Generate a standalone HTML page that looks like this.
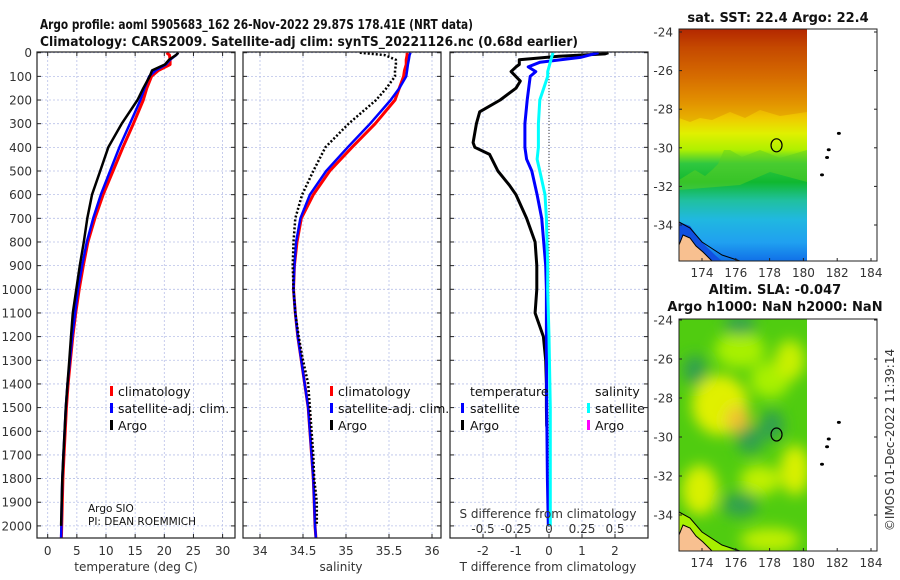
<!DOCTYPE html>
<html><head><meta charset="utf-8"><style>
html,body{margin:0;padding:0;background:#fff;}
svg{display:block;font-family:"DejaVu Sans","Liberation Sans",sans-serif;}
.tk{font-size:12px;fill:#333;}
.ttl{font-size:13px;font-weight:bold;fill:#111;}
.lg{font-size:12.5px;fill:#111;}
</style></head><body>
<svg id="fig" width="900" height="580" viewBox="0 0 900 580">
<defs>
<linearGradient id="sstg" x1="0" y1="0" x2="0" y2="1">
<stop offset="0" stop-color="#a80800"/><stop offset="0.08" stop-color="#c03800"/>
<stop offset="0.2" stop-color="#d86800"/><stop offset="0.3" stop-color="#e89800"/>
<stop offset="0.38" stop-color="#f0c800"/><stop offset="0.45" stop-color="#e0f000"/>
<stop offset="0.52" stop-color="#b0f000"/><stop offset="0.58" stop-color="#30c840"/>
<stop offset="0.66" stop-color="#10b830"/><stop offset="0.74" stop-color="#20c0a0"/>
<stop offset="0.82" stop-color="#20b8e0"/><stop offset="0.92" stop-color="#20a0f0"/>
<stop offset="1" stop-color="#1070e8"/></linearGradient>
<filter id="blur"><feGaussianBlur stdDeviation="7"/></filter>
<clipPath id="c1"><rect x="679" y="29" width="128" height="232"/></clipPath>
<clipPath id="c2"><rect x="679" y="319" width="128" height="232"/></clipPath>
</defs>
<g>
<text class="ttl" x="40" y="29" font-size="13" textLength="433" lengthAdjust="spacingAndGlyphs">Argo profile: aoml 5905683_162 26-Nov-2022 29.87S 178.41E (NRT data)</text>
<text class="ttl" x="40" y="46" font-size="13" textLength="538" lengthAdjust="spacingAndGlyphs">Climatology: CARS2009. Satellite-adj clim: synTS_20221126.nc (0.68d earlier)</text>
</g>
<g id="grids"></g>
<g id="series"></g>
<g id="frames"></g>

<g>
<rect x="110" y="386" width="3" height="10" fill="#f00"/><text class="lg" x="118" y="396">climatology</text>
<rect x="110" y="403" width="3" height="10" fill="#00f"/><text class="lg" x="118" y="413">satellite-adj. clim.</text>
<rect x="110" y="420" width="3" height="10" fill="#000"/><text class="lg" x="118" y="430">Argo</text>
<text x="88" y="512" font-size="10.5" fill="#111">Argo SIO</text>
<text x="88" y="525" font-size="10.5" fill="#111">PI: DEAN ROEMMICH</text>
</g>
<g>
<rect x="330" y="386" width="3" height="10" fill="#f00"/><text class="lg" x="338" y="396">climatology</text>
<rect x="330" y="403" width="3" height="10" fill="#00f"/><text class="lg" x="338" y="413">satellite-adj. clim.</text>
<rect x="330" y="420" width="3" height="10" fill="#000"/><text class="lg" x="338" y="430">Argo</text>
</g>
<g>
<text class="lg" x="470" y="396">temperature</text><text class="lg" x="595" y="396">salinity</text>
<rect x="461" y="403" width="3" height="10" fill="#00f"/><text class="lg" x="470" y="413">satellite</text>
<rect x="461" y="420" width="3" height="10" fill="#000"/><text class="lg" x="470" y="430">Argo</text>
<rect x="587" y="403" width="3" height="10" fill="#0ff"/><text class="lg" x="595" y="413">satellite</text>
<rect x="587" y="420" width="3" height="10" fill="#f0f"/><text class="lg" x="595" y="430">Argo</text>
</g>
<text class="tk" x="548" y="518" text-anchor="middle">S difference from climatology</text>
<g id="sdiffticks"></g>
<text class="tk" x="136" y="571" text-anchor="middle" font-size="13">temperature (deg C)</text>
<text class="tk" x="341" y="571" text-anchor="middle" font-size="13">salinity</text>
<text class="tk" x="548" y="571" text-anchor="middle" font-size="13">T difference from climatology</text>

<g>
<text class="ttl" x="778" y="22" text-anchor="middle">sat. SST: 22.4 Argo: 22.4</text>
<g clip-path="url(#c1)">
<rect x="679" y="29" width="128" height="232" fill="url(#sstg)"/>
<path d="M679 118 L690 122 L700 118 L712 120 L730 112 L745 118 L760 110 L780 116 L807 112 L807 29 L679 29Z" fill="#d07000" opacity="0.3"/>
<path d="M679 180 L695 170 L705 176 L712 170 L718 164 L724 150 L730 150 L742 157 L760 150 L780 158 L807 150 L807 182 L770 172 L740 185 L679 190Z" fill="#60d020" opacity="0.5"/>
<path d="M679 222 L690 226 L700 240 L715 255 L722 261 L679 261Z" fill="#1050e0"/>
<path d="M683 235 L690 238 L696 246 L703 252 L712 261 L679 261 L679 245Z" fill="#f8c090" stroke="#000" stroke-width="1"/>
<path d="M679 222 L690 228 L702 242 L722 255 L740 261" fill="none" stroke="#000" stroke-width="1"/>
</g>
<rect x="679" y="29" width="198" height="232" fill="none" stroke="#222" stroke-width="1"/>
</g>
<g>
<text class="ttl" x="775" y="294" text-anchor="middle">Altim. SLA: -0.047</text>
<text class="ttl" x="775" y="311" text-anchor="middle">Argo h1000: NaN h2000: NaN</text>
<g clip-path="url(#c2)">
<rect x="679" y="319" width="128" height="232" fill="#50cc10"/>
<g filter="url(#blur)">
<ellipse cx="740" cy="350" rx="25" ry="18" fill="#a8f000"/>
<ellipse cx="720" cy="405" rx="28" ry="30" fill="#e0f000"/>
<ellipse cx="738" cy="420" rx="12" ry="14" fill="#f0c030"/>
<ellipse cx="770" cy="380" rx="20" ry="18" fill="#a8f000"/>
<ellipse cx="790" cy="360" rx="15" ry="20" fill="#c8f000"/>
<ellipse cx="760" cy="480" rx="20" ry="15" fill="#c0f000"/>
<ellipse cx="700" cy="490" rx="18" ry="25" fill="#d8f000"/>
<ellipse cx="795" cy="470" rx="15" ry="25" fill="#d8f000"/>
<ellipse cx="770" cy="540" rx="30" ry="12" fill="#c0f000"/>
<ellipse cx="750" cy="440" rx="14" ry="14" fill="#30a050"/>
<ellipse cx="695" cy="370" rx="12" ry="15" fill="#30a050"/>
<ellipse cx="740" cy="505" rx="18" ry="12" fill="#30a050"/>
<ellipse cx="772" cy="425" rx="12" ry="15" fill="#30a050"/>
<ellipse cx="740" cy="325" rx="16" ry="10" fill="#30a050"/>
</g>
<path d="M679 512 L690 518 L702 532 L722 545 L735 551 L679 551Z" fill="#a8f000"/>
<path d="M683 525 L690 528 L696 536 L703 542 L712 551 L679 551 L679 535Z" fill="#f8c090" stroke="#000" stroke-width="1"/>
<path d="M679 512 L690 518 L702 532 L722 545 L740 551" fill="none" stroke="#000" stroke-width="1"/>
</g>
<rect x="679" y="319" width="198" height="232" fill="none" stroke="#222" stroke-width="1"/>
</g>
<text class="tk" font-size="13" transform="translate(894,440) rotate(-90)" text-anchor="middle">©IMOS 01-Dec-2022 11:39:14</text>
<g id="maptk"></g>
</svg>
<script>
const depths = [0,10,30,50,75,100,150,200,300,400,500,600,700,800,900,1000,1100,1200,1300,1400,1500,1600,1700,1800,1900,2000];
const tempArgo = [22.4,22.0,20.8,20.1,17.9,17.5,16.4,15.4,12.7,10.4,9.0,7.6,6.8,6.2,5.5,4.9,4.3,4.0,3.7,3.4,3.1,2.9,2.7,2.5,2.4,2.3];
const climDepths = [0,10,30,50,75,100,150,200,300,400,500,600,700,800,900,1000,1100,1200,1300,1400,1500,1600,1700,1800,1900,2000,2050];
const tempClim = [20.4,20.9,21.0,21.0,19.0,17.8,17.0,16.4,14.7,12.9,11.2,9.5,8.1,6.9,6.1,5.4,4.8,4.3,3.9,3.5,3.2,3.0,2.8,2.6,2.5,2.4,2.35];
const tempSat = [22.4,22.0,21.0,20.3,18.5,17.4,16.6,15.9,14.1,12.3,10.7,9.1,7.8,6.7,5.9,5.2,4.7,4.2,3.8,3.4,3.1,2.9,2.7,2.5,2.4,2.35,2.3];
const salArgo = [35.16,35.45,35.58,35.58,35.57,35.57,35.47,35.35,35.03,34.76,34.62,34.49,34.41,34.39,34.38,34.39,34.41,34.45,34.50,34.56,34.58,34.60,34.62,34.63,34.66,34.66];
const salClim = [35.71,35.71,35.70,35.70,35.68,35.67,35.62,35.57,35.34,35.07,34.81,34.62,34.48,34.43,34.40,34.39,34.41,34.44,34.48,34.52,34.56,34.58,34.60,34.62,34.63,34.64,34.65];
const salSat = [35.75,35.74,35.73,35.72,35.71,35.70,35.62,35.52,35.28,35.02,34.77,34.58,34.47,34.42,34.40,34.39,34.41,34.44,34.48,34.52,34.56,34.58,34.60,34.62,34.63,34.64,34.65];
const diffDepths = [0,5,15,30,50,60,80,120,150,200,250,300,380,400,430,500,560,600,700,800,900,1000,1100,1200,1300,1400,1500,1580];
const tDiffArgo = [1.8,1.7,0.3,-0.9,-0.9,-1.0,-1.15,-0.87,-1.0,-1.48,-2.1,-2.2,-2.3,-2.25,-1.8,-1.55,-1.2,-1.0,-0.68,-0.42,-0.37,-0.37,-0.42,-0.17,-0.1,-0.08,-0.08,-0.07];
const satDepths = [0,20,40,60,80,100,200,300,400,450,500,600,700,800,900,1000,1200,1500,1800,2000];
const tDiffSat = [1.5,0.95,-0.27,-0.63,-0.4,-0.57,-0.66,-0.73,-0.73,-0.68,-0.52,-0.36,-0.22,-0.16,-0.1,-0.08,-0.08,-0.07,-0.05,-0.02];
const sDiffSat = [0.03,0.02,0.01,0.0,-0.01,-0.01,-0.07,-0.08,-0.08,-0.09,-0.07,-0.03,-0.02,-0.015,-0.01,-0.01,0.0,0.01,0.01,0.01];
const depthTicks = [0,100,200,300,400,500,600,700,800,900,1000,1100,1200,1300,1400,1500,1600,1700,1800,1900,2000];
const tempTicks = [0,5,10,15,20,25,30];
const salTicks = [34,34.5,35,35.5,36];
const tdTicks = [-2,-1,0,1,2];
const sdTicks = [-0.5,-0.25,0,0.25,0.5];
const sdTickLabels = ["-0.5","-0.25","0","0.25","0.5"];
const lonTicks = [174,176,178,180,182,184];
const latTicks = [-24,-26,-28,-30,-32,-34];
const argoLon = 178.41, argoLat = -29.87;
const islands = [[182.1,-29.25],[181.5,-30.1],[181.4,-30.5],[181.1,-31.4]];
const yD = d => 52.7 + d*0.2366;
const xT = t => 47.7 + t*5.83;
const xS = s => 260 + (s-34)*86;
const xTD = t => 549 + t*33;
const xSD = s => 549 + s*132;
const mx = lon => 702 + (lon-174)*16.9;
const my1 = lat => 32 + (-24-lat)*19.3;
const my2 = lat => 320 + (-24-lat)*19.5;
const NS='http://www.w3.org/2000/svg';
function el(tag, attrs, parent){const e=document.createElementNS(NS,tag);for(const k in attrs)e.setAttribute(k,attrs[k]);parent.appendChild(e);return e;}
const G=document.getElementById('grids'),S=document.getElementById('series'),F=document.getElementById('frames');
const panels=[{x0:37,x1:235,ticks:tempTicks,sc:xT,lab:tempTicks.map(String),name:'temperature'},
 {x0:243,x1:441,ticks:salTicks,sc:xS,lab:salTicks.map(String),name:'salinity'},
 {x0:450,x1:648,ticks:tdTicks,sc:xTD,lab:tdTicks.map(String),name:'difference'}];
const yTop=52, yBot=538;
panels.forEach((p,i)=>{
 depthTicks.forEach(d=>{const l=el('line',{x1:p.x0,x2:p.x1,y1:yD(d),y2:yD(d),stroke:'#b8c0e8','stroke-width':0.8,'stroke-dasharray':'2,2'},G);
 
 
 el('line',{x1:p.x0,x2:p.x0+4,y1:yD(d),y2:yD(d),stroke:'#222'},F);el('line',{x1:p.x1-4,x2:p.x1,y1:yD(d),y2:yD(d),stroke:'#222'},F);});
 p.ticks.forEach((t,j)=>{const x=p.sc(t);const l=el('line',{x1:x,x2:x,y1:yTop,y2:yBot,stroke:'#b8c0e8','stroke-width':0.8,'stroke-dasharray':'2,2'},G);
 
 
 el('line',{x1:x,x2:x,y1:yBot-4,y2:yBot,stroke:'#222'},F);el('line',{x1:x,x2:x,y1:yTop,y2:yTop+4,stroke:'#222'},F);
 const tx=el('text',{x:x,y:555,'text-anchor':'middle',class:'tk'},F);tx.textContent=p.lab[j];
 
 });
 const r=el('rect',{x:p.x0,y:yTop,width:p.x1-p.x0,height:yBot-yTop,fill:'none',stroke:'#222','stroke-width':1.2},F);
 
 
});
depthTicks.forEach(d=>{const t=el('text',{x:32,y:yD(d)+4.5,'text-anchor':'end',class:'tk'},F);t.textContent=d;
 
 });
const sdT=document.getElementById('sdiffticks');
sdTicks.forEach((s,j)=>{const t=el('text',{x:xSD(s),y:533,'text-anchor':'middle',class:'tk'},sdT);t.textContent=sdTickLabels[j];
 
 });
function line(ds,vs,sc,color,w,name,dash){
 const pts=ds.map((d,i)=>sc(vs[i]).toFixed(1)+','+yD(d).toFixed(1)).join(' ');
 const a={points:pts,fill:'none',stroke:color,'stroke-width':w,'stroke-linejoin':'round'};if(dash)a['stroke-dasharray']=dash;
 const l=el('polyline',a,S);
 
 }
line(climDepths,tempClim,xT,'#f00',3,'temperature-climatology-line');
line(climDepths,tempSat,xT,'#00f',2.5,'temperature-satellite-line');
line(depths,tempArgo,xT,'#000',2.5,'temperature-argo-line');
line(climDepths,salClim,xS,'#f00',3,'salinity-climatology-line');
line(climDepths,salSat,xS,'#00f',2.5,'salinity-satellite-line');
line(depths,salArgo,xS,'#000',2.5,'salinity-argo-line','2,2');
const z=el('line',{x1:549,x2:549,y1:yTop,y2:yBot,stroke:'#333','stroke-width':1,'stroke-dasharray':'1,2'},S);


line(diffDepths,tDiffArgo,xTD,'#000',3,'t-diff-argo-line');
line(satDepths,tDiffSat,xTD,'#00f',3,'t-diff-satellite-line');
line(satDepths,sDiffSat,xSD,'#0ff',3,'s-diff-satellite-line');
const M=document.getElementById('maptk');
[[my1,261,29],[my2,551,319]].forEach(([my,yb,yt])=>{
 lonTicks.forEach(l=>{const x=mx(l);el('line',{x1:x,x2:x,y1:yb-3,y2:yb,stroke:'#222'},M);
 const t=el('text',{x:x,y:yb+16,'text-anchor':'middle',class:'tk'},M);t.textContent=l;
 
 });
 latTicks.forEach(l=>{const y=my(l);el('line',{x1:679,x2:682,y1:y,y2:y,stroke:'#222'},M);el('line',{x1:874,x2:877,y1:y,y2:y,stroke:'#222'},M);
 const t=el('text',{x:673,y:y+4.5,'text-anchor':'end',class:'tk'},M);t.textContent=l;
 
 });
 const c=el('ellipse',{cx:mx(argoLon),cy:my(argoLat),rx:5.5,ry:6.5,fill:'none',stroke:'#000','stroke-width':1.2},M);
 
 
 islands.forEach(([lo,la])=>{const e=el('ellipse',{cx:mx(lo),cy:my(la),rx:2,ry:1.5,fill:'#000'},M);
 
 });
});
</script>
</body></html>
